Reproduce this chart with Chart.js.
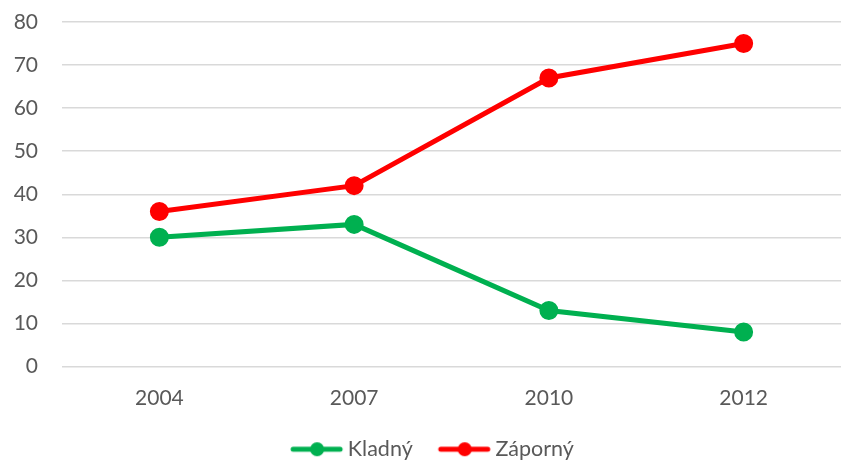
<!DOCTYPE html>
<html>
<head>
<meta charset="utf-8">
<script src="https://cdn.jsdelivr.net/npm/chart.js@4"></script>
<style>
  html, body { margin: 0; padding: 0; background: #fff; }
  #wrap { width: 841px; height: 463px; }
</style>
</head>
<body>
<div id="wrap"><canvas id="myChart" width="841" height="463"></canvas></div>
<script>
const years = ['2004', '2007', '2010', '2012'];
const kladny = [30, 33, 13, 8];
const zaporny = [36, 42, 67, 75];
const yTicks = [0, 10, 20, 30, 40, 50, 60, 70, 80];

const FONT = "Lato, 'Open Sans', sans-serif";
const TEXT = '#595959';

// legend marker: short line with a dot, shifted so the gaps match the original
function legendMarker(color) {
  const c = document.createElement('canvas');
  c.width = 84;
  c.height = 16;
  const ctx = c.getContext('2d');
  ctx.strokeStyle = color;
  ctx.lineWidth = 5;
  ctx.lineCap = 'round';
  ctx.beginPath();
  ctx.moveTo(33, 8);
  ctx.lineTo(80, 8);
  ctx.stroke();
  ctx.fillStyle = color;
  ctx.beginPath();
  ctx.arc(57, 8, 7, 0, Math.PI * 2);
  ctx.fill();
  return c;
}

// push the legend a bit lower than Chart.js places it
const legendShift = {
  id: 'legendShift',
  afterLayout(chart) {
    chart.legend.top += 7;
    chart.legend.bottom += 7;
  }
};

const green = '#00B050';
const red = '#FF0000';

new Chart(document.getElementById('myChart'), {
  type: 'line',
  data: {
    labels: years,
    datasets: [{
      label: 'Kladný',
      data: kladny,
      borderColor: green,
      backgroundColor: green,
      borderWidth: 5,
      pointRadius: 7,
      pointHoverRadius: 7,
      tension: 0,
      fill: false,
    }, {
      label: 'Záporný',
      data: zaporny,
      borderColor: red,
      backgroundColor: red,
      borderWidth: 5,
      pointRadius: 7,
      pointHoverRadius: 7,
      tension: 0,
      fill: false,
    }]
  },
  options: {
    responsive: false,
    animation: false,
    layout: { padding: 0, autoPadding: false },
    plugins: {
      tooltip: { enabled: false },
      legend: {
        position: 'bottom',
        labels: {
          usePointStyle: true,
          pointStyleWidth: 70,
          padding: 2,
          color: TEXT,
          font: { family: FONT, size: 21.5 },
          generateLabels: chart => chart.data.datasets.map((ds, i) => ({
            text: ds.label,
            pointStyle: legendMarker(ds.borderColor),
            fillStyle: ds.borderColor,
            strokeStyle: ds.borderColor,
            lineWidth: 0,
            fontColor: TEXT,
            datasetIndex: i,
            hidden: false,
          }))
        }
      }
    },
    scales: {
      x: {
        offset: true,
        grid: { display: false },
        border: { display: false },
        ticks: { color: TEXT, font: { family: FONT, size: 21 }, padding: 11 },
        afterFit: axis => {
          axis.height = 63;
          axis.paddingLeft = 0;
          axis.paddingRight = 0;
        }
      },
      y: {
        min: 0,
        max: 80,
        afterBuildTicks: axis => { axis.ticks = yTicks.map(v => ({ value: v })); },
        grid: { color: '#d9d9d9', lineWidth: 1.5, drawTicks: false },
        border: { display: false },
        ticks: { color: TEXT, font: { family: FONT, size: 21 }, padding: 24 },
        afterFit: axis => {
          axis.width = 62;
          axis.paddingTop = 22;
          axis.paddingBottom = 0;
        }
      }
    }
  },
  plugins: [legendShift]
});
</script>
</body>
</html>
